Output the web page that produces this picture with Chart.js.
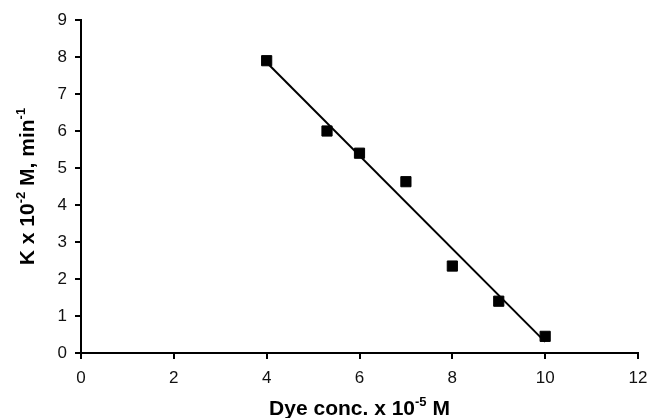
<!DOCTYPE html>
<html>
<head>
<meta charset="utf-8">
<script src="https://cdn.jsdelivr.net/npm/chart.js@4/dist/chart.umd.min.js"></script>
<style>
  html, body { margin: 0; padding: 0; background: #fff; }
  #wrap { width: 650px; height: 418px; }
</style>
</head>
<body>
<div id="wrap"><canvas id="c" width="650" height="418"></canvas></div>
<script>
// measured points (Dye conc. x 1e-5 M vs K x 1e-2 M, min-1)
const dyeConc = [4, 5.3, 6, 7, 8, 9, 10];
const kValues = [7.9, 6.0, 5.4, 4.63, 2.35, 1.4, 0.45];

// trend line end points
const trendX = [4, 10];
const trendY = [7.85, 0.3];

const xTicks = [0, 2, 4, 6, 8, 10, 12];
const yTicks = [0, 1, 2, 3, 4, 5, 6, 7, 8, 9];

const xTitle = [{ t: "Dye conc. x 10" }, { t: "-5", sup: true }, { t: " M" }];
const yTitle = [{ t: "K x 10" }, { t: "-2", sup: true }, { t: " M, min" }, { t: "-1", sup: true }];

const FONT = "'Liberation Sans', Arial, Helvetica, sans-serif";

// draws a title with superscript parts, centred on (cx, baseline)
function drawRich(ctx, parts, cx, baseY, size) {
  const big = "bold " + size + "px " + FONT;
  const small = "bold " + Math.round(size * 0.62) + "px " + FONT;
  let total = 0;
  parts.forEach((p) => {
    ctx.font = p.sup ? small : big;
    total += ctx.measureText(p.t).width;
  });
  let x = cx - total / 2;
  ctx.textAlign = "left";
  ctx.textBaseline = "alphabetic";
  parts.forEach((p) => {
    ctx.font = p.sup ? small : big;
    ctx.fillText(p.t, x, p.sup ? baseY - size * 0.42 : baseY);
    x += ctx.measureText(p.t).width;
  });
}

const titlesPlugin = {
  id: "titles",
  afterDraw(chart) {
    const ctx = chart.ctx;
    const area = chart.chartArea;
    ctx.save();
    ctx.fillStyle = "#000";
    drawRich(ctx, xTitle, (area.left + area.right) / 2, 415, 21);
    ctx.translate(34, (area.top + area.bottom) / 2);
    ctx.rotate(-Math.PI / 2);
    drawRich(ctx, yTitle, 0, 0, 21);
    ctx.restore();
  },
};

new Chart(document.getElementById("c"), {
  type: "scatter",
  data: {
    datasets: [
      {
        label: "data",
        data: dyeConc.map((x, i) => ({ x: x, y: kValues[i] })),
        pointStyle: "rect",
        pointRadius: 7.2,
        backgroundColor: "#000",
        borderColor: "#000",
        borderWidth: 1,
        order: 1,
      },
      {
        label: "trend",
        type: "line",
        data: trendX.map((x, i) => ({ x: x, y: trendY[i] })),
        borderColor: "#000",
        borderWidth: 2,
        pointRadius: 0,
        fill: false,
        order: 2,
      },
    ],
  },
  options: {
    responsive: false,
    animation: false,
    layout: { padding: { top: 20, right: 12, left: 0, bottom: 0 } },
    plugins: { legend: { display: false }, tooltip: { enabled: false } },
    scales: {
      x: {
        type: "linear",
        min: 0,
        max: 12,
        afterBuildTicks: (s) => { s.ticks = xTicks.map((v) => ({ value: v })); },
        afterFit: (s) => { s.height = 65; s.paddingLeft = 0; s.paddingRight = 0; },
        border: { color: "#000", width: 2 },
        grid: { drawOnChartArea: false, drawTicks: true, tickLength: 6, color: "#000", lineWidth: 2 },
        ticks: { color: "#111", padding: 9, font: { family: FONT, size: 17 } },
      },
      y: {
        type: "linear",
        min: 0,
        max: 9,
        afterBuildTicks: (s) => { s.ticks = yTicks.map((v) => ({ value: v })); },
        afterFit: (s) => { s.width = 81; s.paddingTop = 0; s.paddingBottom = 0; },
        border: { color: "#000", width: 2 },
        grid: { drawOnChartArea: false, drawTicks: true, tickLength: 6, color: "#000", lineWidth: 2 },
        ticks: { color: "#111", padding: 8, font: { family: FONT, size: 17 } },
      },
    },
  },
  plugins: [titlesPlugin],
});
</script>
</body>
</html>
